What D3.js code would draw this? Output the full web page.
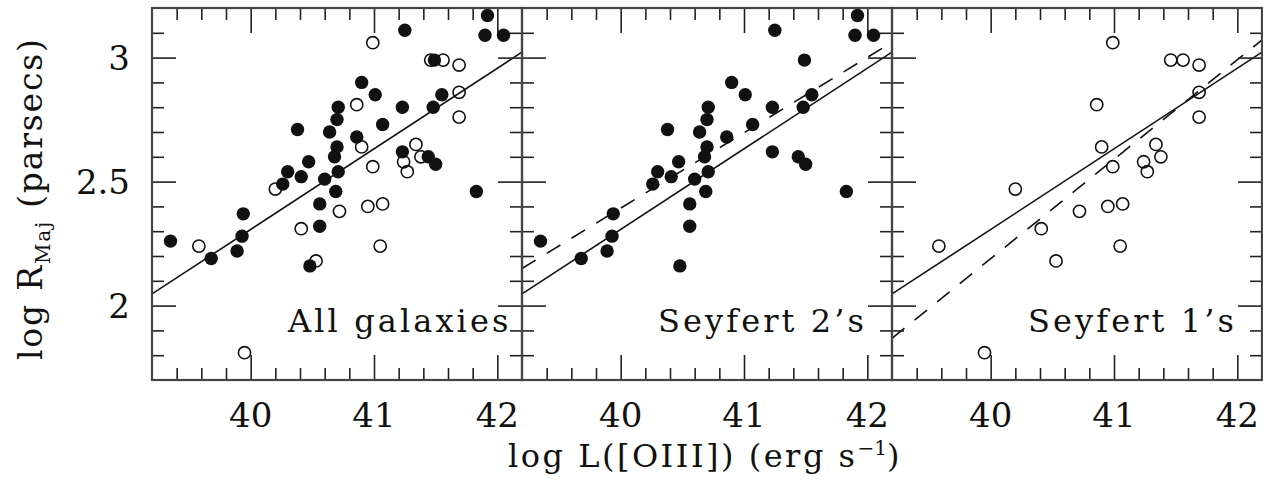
<!DOCTYPE html>
<html><head><meta charset="utf-8">
<script src="https://cdn.jsdelivr.net/npm/d3@7"></script>
<style>body{margin:0;background:#fff}svg{display:block}text{font-family:"DejaVu Serif",serif;fill:#111}</style>
</head><body>
<svg id="chart" width="1263" height="488"></svg>
<script>
// ---------------- data ----------------
const panelNames = ["All galaxies", "Seyfert 2\u2019s", "Seyfert 1\u2019s"];
// Seyfert 2 (filled circles): log L([OIII]) and log R_Maj
const sy2X = [41.92,41.90,42.05,41.25,41.49,40.90,41.01,40.71,40.70,40.64,40.38,41.23,41.55,41.48,41.07,40.86,40.70,40.68,40.71,40.47,40.30,40.26,40.41,40.60,40.69,41.23,41.44,41.50,41.83,39.35,39.68,39.89,39.93,39.94,40.56,40.56,40.48];
const sy2Y = [3.17,3.09,3.09,3.11,2.99,2.90,2.85,2.80,2.75,2.70,2.71,2.80,2.85,2.80,2.73,2.68,2.64,2.60,2.54,2.58,2.54,2.49,2.52,2.51,2.46,2.62,2.60,2.57,2.46,2.26,2.19,2.22,2.28,2.37,2.41,2.32,2.16];
// Seyfert 1 (open circles)
const sy1X = [40.99,41.46,41.56,41.69,41.69,41.69,40.86,40.90,40.99,41.34,41.24,41.38,41.27,40.20,39.58,40.41,40.72,40.95,41.07,41.05,40.53,39.95];
const sy1Y = [3.06,2.99,2.99,2.97,2.86,2.76,2.81,2.64,2.56,2.65,2.58,2.60,2.54,2.47,2.24,2.31,2.38,2.40,2.41,2.24,2.18,1.81];
// fits: [value at log L = 40, slope]
const fitAll = [2.307, 0.325];
const fitSy2 = [2.393, 0.304];
const fitSy1 = [2.189, 0.401];
const xDomain = [39.2, 42.2];
const yDomain = [1.7, 3.2];
const xTickValues = [40, 41, 42];
const xTickLabels = ["40", "41", "42"];
const yTickValues = [2, 2.5, 3];
const yTickLabels = ["2", "2.5", "3"];
const xMinor = d3.range(39.4, 42.1, 0.2).map(v => +v.toFixed(1));
const yMinor = d3.range(1.8, 3.15, 0.1).map(v => +v.toFixed(1));

// ---------------- layout ----------------
const svg = d3.select("#chart");
const topY = 8, H = 372, W = 370;
const lefts = [152, 522, 892];
const x = d3.scaleLinear().domain(xDomain).range([0, W]);
const y = d3.scaleLinear().domain(yDomain).range([H, 0]);

const sy2 = sy2X.map((v,i)=>({x:v,y:sy2Y[i]}));
const sy1 = sy1X.map((v,i)=>({x:v,y:sy1Y[i]}));
const panels = [
  {name: panelNames[0], filled: sy2, open: sy1, dashed: null},
  {name: panelNames[1], filled: sy2, open: [], dashed: fitSy2},
  {name: panelNames[2], filled: [], open: sy1, dashed: fitSy1}
];

const defs = svg.append("defs");
defs.append("clipPath").attr("id","clip").append("rect").attr("width",W).attr("height",H);

panels.forEach((p, i) => {
  const g = svg.append("g").attr("transform", `translate(${lefts[i]},${topY})`);
  const plot = g.append("g").attr("clip-path","url(#clip)");
  const line = (fit) => [xDomain[0], xDomain[1]].map(v => [x(v), y(fit[0] + fit[1]*(v-40))]);
  plot.append("path").attr("d", d3.line()(line(fitAll)))
    .attr("fill","none").attr("stroke","#111").attr("stroke-width",1.6);
  if (p.dashed) {
    plot.append("path").attr("d", d3.line()(line(p.dashed)))
      .attr("fill","none").attr("stroke","#111").attr("stroke-width",1.6)
      .attr("stroke-dasharray","16,13");
  }
  plot.selectAll("circle.f").data(p.filled).join("circle").attr("class","f")
    .attr("cx", d=>x(d.x)).attr("cy", d=>y(d.y)).attr("r",6.7).attr("fill","#111");
  plot.selectAll("circle.o").data(p.open).join("circle").attr("class","o")
    .attr("cx", d=>x(d.x)).attr("cy", d=>y(d.y)).attr("r",6.1)
    .attr("fill","none").attr("stroke","#111").attr("stroke-width",1.6);

  // axes with inward ticks on all four sides
  const mk = (axis, tr) => {
    const a = g.append("g").attr("transform", tr).call(axis);
    a.select(".domain").remove();
    a.selectAll("line").attr("stroke","#222").attr("stroke-width",1.6);
    return a;
  };
  const noLab = () => "";
  const xMin = xMinor.filter(v=>!xTickValues.includes(v));
  mk(d3.axisBottom(x).tickValues(xMin).tickSize(-12).tickFormat(noLab), `translate(0,${H})`);
  mk(d3.axisBottom(x).tickValues(xTickValues).tickSize(-25).tickFormat(noLab), `translate(0,${H})`);
  mk(d3.axisTop(x).tickValues(xMin).tickSize(-12).tickFormat(noLab), `translate(0,0)`);
  mk(d3.axisTop(x).tickValues(xTickValues).tickSize(-25).tickFormat(noLab), `translate(0,0)`);
  const yMin = yMinor.filter(v=>!yTickValues.includes(v));
  mk(d3.axisLeft(y).tickValues(yMin).tickSize(-12).tickFormat(noLab), `translate(0,0)`);
  mk(d3.axisLeft(y).tickValues(yTickValues).tickSize(-24).tickFormat(noLab), `translate(0,0)`);
  mk(d3.axisRight(y).tickValues(yMin).tickSize(-12).tickFormat(noLab), `translate(${W},0)`);
  mk(d3.axisRight(y).tickValues(yTickValues).tickSize(-24).tickFormat(noLab), `translate(${W},0)`);

  // tick labels (x)
  g.selectAll("text.xl").data(xTickValues).join("text").attr("class","xl")
    .attr("x", d=>x(d)).attr("y", H + 46.5).attr("text-anchor","middle")
    .style("font-size","34px").text((d,k)=>xTickLabels[k]);
  if (i === 0) {
    g.selectAll("text.yl").data(yTickValues).join("text").attr("class","yl")
      .attr("x", -22).attr("y", d=>y(d)+12.5).attr("text-anchor","end")
      .style("font-size","34px").text((d,k)=>yTickLabels[k]);
  }
  // frame
  g.append("rect").attr("width",W).attr("height",H).attr("fill","none")
    .attr("stroke","#444").attr("stroke-width",2.2);
  // panel name
  g.append("text").attr("x",136).attr("y",323.7).style("font-size","32px")
    .style("letter-spacing","3.1px").text(p.name);
});

// axis titles
const xt = svg.append("text").attr("x", 508).attr("y", 466.5).style("font-size","32px").style("letter-spacing","2.5px");
xt.append("tspan").text("log L([OIII]) (erg s");
xt.append("tspan").attr("dy",-12).style("font-size","20px").style("letter-spacing","0px").text("\u22121");
xt.append("tspan").attr("dy",12).text(")");

const yt = svg.append("text").attr("transform","translate(42,360) rotate(-90)").style("font-size","33px").style("letter-spacing","1.8px");
yt.append("tspan").text("log R");
yt.append("tspan").attr("dy",8).style("font-size","20px").text("Maj");
yt.append("tspan").attr("dy",-8).text(" (parsecs)");
</script>
</body></html>
